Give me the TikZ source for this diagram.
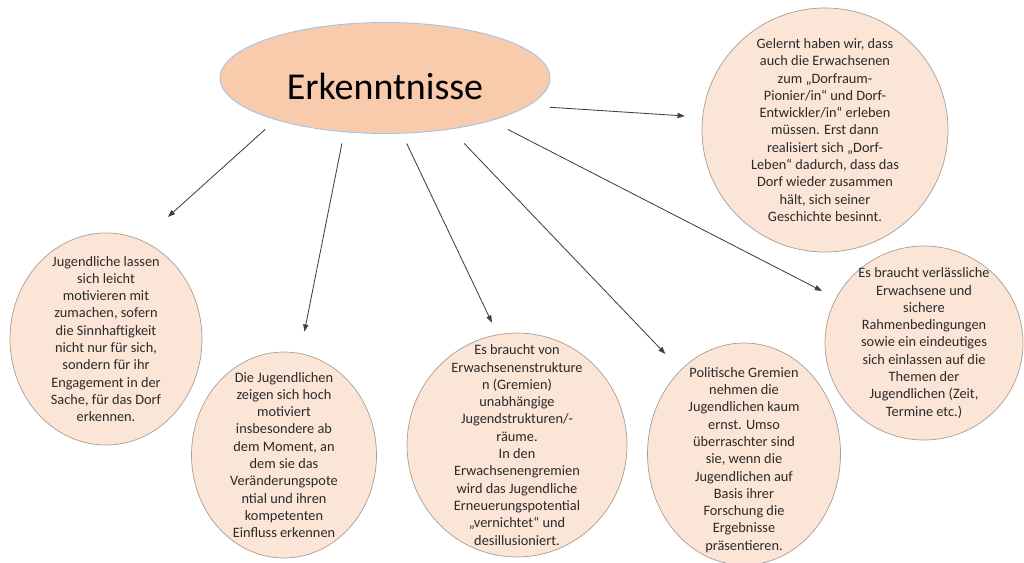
\documentclass[tikz,border=0pt]{standalone}
\usepackage{fontspec}
\setmainfont{Carlito}
\usepackage{xcolor}
\usetikzlibrary{shapes.geometric,arrows.meta}
\definecolor{titlefill}{HTML}{F8CBAD}
\definecolor{titleline}{HTML}{9DC3E6}
\definecolor{bubblefill}{HTML}{FBE5D6}
\definecolor{bubbleline}{HTML}{A89E96}
\definecolor{txtgray}{HTML}{2A2A2A}

\begin{document}
\begin{tikzpicture}[
		bubble/.style={ellipse, draw=bubbleline, fill=bubblefill, line width=0.5pt, inner sep=0pt},
		bubbletext/.style={align=center, text=txtgray, font=\fontsize{10.2}{12.3}\selectfont, inner sep=0pt},
		arr/.style={-{Triangle[length=1.8mm,width=1.3mm]}, draw=black!75, line width=0.6pt}
	]
		\useasboundingbox (0,0) rectangle (25.6,14.05);
		\node[ellipse, draw=titleline, fill=titlefill, line width=0.6pt, minimum width=8.25cm, minimum height=2.775cm,
			text height=1.07cm, font=\fontsize{27}{32}\selectfont] (main) at (9.625,12.1) {Erkenntnisse};

		\node[bubble, minimum width=4.8cm, minimum height=5.3cm] (motiv) at (2.65,5.575) {};
		\node[bubbletext] (motiv-txt) at (motiv) {Jugendliche lassen\\sich leicht\\motivieren mit\\zumachen, sofern\\die Sinnhaftigkeit\\nicht nur für sich,\\sondern für ihr\\Engagement in der\\Sache, für das Dorf\\erkennen.};

		\node[bubble, minimum width=4.625cm, minimum height=5.15cm] (moment) at (7.1,2.675) {};
		\node[bubbletext] (moment-txt) at (moment) {Die Jugendlichen\\zeigen sich hoch\\motiviert\\insbesondere ab\\dem Moment, an\\dem sie das\\Veränderungspote\\ntial und ihren\\kompetenten\\Einfluss erkennen};

		\node[bubble, minimum width=5.5cm, minimum height=5.6cm] (gremien) at (12.925,2.925) {};
		\node[bubbletext] (gremien-txt) at (gremien) {Es braucht von\\Erwachsenenstrukture\\n (Gremien)\\unabhängige\\Jugendstrukturen/-\\räume.\\In den\\Erwachsenengremien\\wird das Jugendliche\\Erneuerungspotential\\„vernichtet“ und\\desillusioniert.};

		\node[bubble, minimum width=4.825cm, minimum height=5.55cm] (politik) at (18.6,2.7) {};
		\node[bubbletext, yshift=-0.15cm] (politik-txt) at (politik) {Politische Gremien\\nehmen die\\Jugendlichen  kaum\\ernst. Umso\\überraschter sind\\sie, wenn die\\Jugendlichen  auf\\Basis ihrer\\Forschung die\\Ergebnisse\\präsentieren.};

		\node[bubble, minimum width=6.15cm, minimum height=6.1cm] (dorf) at (20.625,10.8) {};
		\node[bubbletext] (dorf-txt) at (dorf) {Gelernt haben wir, dass\\auch die Erwachsenen\\zum „Dorfraum-\\Pionier/in“ und Dorf-\\Entwickler/in“ erleben\\müssen. Erst dann\\realisiert sich „Dorf-\\Leben“ dadurch, dass das\\Dorf wieder zusammen\\hält, sich seiner\\Geschichte besinnt.};

		\node[bubble, minimum width=4.95cm, minimum height=4.85cm] (rahmen) at (23.1,5.475) {};
		\node[bubbletext] (rahmen-txt) at (rahmen) {Es braucht verlässliche\\Erwachsene und\\sichere\\Rahmenbedingungen\\sowie ein eindeutiges\\sich einlassen auf die\\Themen der\\Jugendlichen  (Zeit,\\Termine etc.)};

		\draw[arr, shorten <=0.35cm, shorten >=0.875cm] (main.201) -- (motiv.70.5);
		\draw[arr, shorten <=0.29cm, shorten >=0.55cm] (main.233.5) -- (moment.81.3);
		\draw[arr, shorten <=0.275cm, shorten >=0.325cm] (main.287.4) -- (gremien.100);
		\draw[arr, shorten <=0.49cm, shorten >=0.55cm] (main.322.7) -- (politik.127.6);
		\draw[arr, shorten <=0.475cm, shorten >=0.39cm] (main.338.5) -- (rahmen.153.6);
		\draw[arr, shorten <=0.54cm, shorten >=0.44cm] (main.349.2) -- (dorf.174.5);
	\end{tikzpicture}
\end{document}
